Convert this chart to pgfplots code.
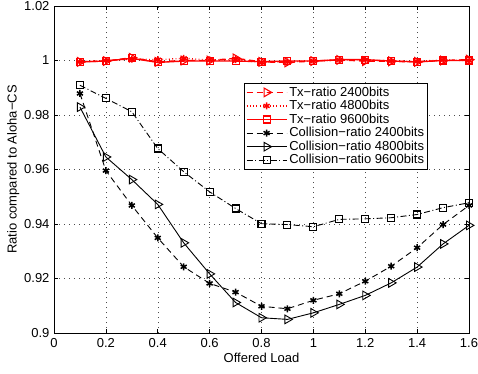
\documentclass[border=0pt]{standalone}
\usepackage{pgfplots}
\pgfplotsset{compat=1.18}
\usepackage{fontspec}
\setmainfont{Liberation Sans}
\begin{document}
\fontsize{13}{15}\selectfont
\begin{tikzpicture}
\begin{axis}[
  scale only axis, width=415pt, height=327pt,
  xmin=0, xmax=1.6, ymin=0.9, ymax=1.02,
  xtick={0,0.2,0.4,0.6,0.8,1,1.2,1.4,1.6},
  xticklabels={0,0.2,0.4,0.6,0.8,1,1.2,1.4,1.6},
  ytick={0.9,0.92,0.94,0.96,0.98,1,1.02},
  yticklabels={0.9,0.92,0.94,0.96,0.98,1,1.02},
  tick align=inside, tick pos=both,
  major tick length=4pt,
  xmajorgrids, ymajorgrids,
  grid style={black!70, dash pattern=on 0.8pt off 4.2pt, line width=0.5pt},
  axis line style={line width=0.9pt},
  tick style={black, line width=0.6pt},
  tick label style={font=\fontsize{13}{15}\selectfont},
  label style={font=\fontsize{13}{15}\selectfont},
  xticklabel style={yshift=-1pt},
  xlabel={Offered Load},
  ylabel={Ratio compared to Aloha−CS},
  xlabel style={yshift=4pt},
  ylabel style={yshift=-4pt},
  legend cell align=left,
  legend style={at={(0.901,0.765)}, anchor=north east, draw=black, line width=0.7pt,
    font=\fontsize{13}{15}\selectfont, inner sep=1.5pt, row sep=-1.8pt, fill=white},
  legend image code/.code={\draw[mark repeat=2,mark phase=2,#1] plot coordinates {(0pt,0pt) (20pt,0pt) (40pt,0pt)};},
]
% Tx-ratio 2400bits
\addplot[red, line width=1.4pt, dash pattern=on 6pt off 4pt, mark=triangle, mark size=5pt,
  mark options={solid, rotate=-90, line width=1.1pt}] coordinates {
(0.1,0.9995) (0.2,0.9998) (0.3,1.0010) (0.4,0.9995) (0.5,1.0000) (0.6,1.0000)
(0.7,1.0008) (0.8,0.9995) (0.9,0.9993) (1.0,0.9998) (1.1,1.0002) (1.2,0.9998)
(1.3,0.9997) (1.4,0.9995) (1.5,1.0000) (1.6,1.0003)};
\addlegendentry{Tx−ratio 2400bits}
% Tx-ratio 4800bits
\addplot[red, line width=1.4pt, dash pattern=on 0.8pt off 2.5pt, mark=asterisk, mark size=3.5pt,
  mark options={solid, line width=1.5pt}] coordinates {
(0.1,0.9995) (0.2,1.0000) (0.3,1.0005) (0.4,1.0003) (0.5,1.0008) (0.6,1.0002)
(0.7,1.0003) (0.8,0.9993) (0.9,0.9995) (1.0,0.9998) (1.1,1.0002) (1.2,1.0003)
(1.3,0.9998) (1.4,0.9997) (1.5,1.0002) (1.6,1.0000)};
\addlegendentry{Tx−ratio 4800bits}
% Tx-ratio 9600bits
\addplot[red, line width=1.4pt, mark=square, mark size=3.5pt,
  mark options={solid, line width=1.1pt}] coordinates {
(0.1,0.9995) (0.2,0.9998) (0.3,1.0008) (0.4,0.9993) (0.5,0.9998) (0.6,0.9998)
(0.7,0.9998) (0.8,0.9996) (0.9,0.9998) (1.0,0.9998) (1.1,1.0003) (1.2,1.0003)
(1.3,0.9998) (1.4,0.9995) (1.5,1.0000) (1.6,1.0000)};
\addlegendentry{Tx−ratio 9600bits}
% Collision-ratio 2400bits
\addplot[black, line width=0.9pt, dash pattern=on 6pt off 4pt, mark=asterisk, mark size=3.5pt,
  mark options={solid, line width=1.5pt}] coordinates {
(0.1,0.9879) (0.2,0.9596) (0.3,0.9468) (0.4,0.9349) (0.5,0.9243) (0.6,0.9182)
(0.7,0.9150) (0.8,0.9098) (0.9,0.9089) (1.0,0.9120) (1.1,0.9144) (1.2,0.9190)
(1.3,0.9245) (1.4,0.9313) (1.5,0.9398) (1.6,0.9468)};
\addlegendentry{Collision−ratio 2400bits}
% Collision-ratio 4800bits
\addplot[black, line width=0.9pt, mark=triangle, mark size=5pt,
  mark options={solid, rotate=-90, line width=0.9pt}] coordinates {
(0.1,0.9829) (0.2,0.9646) (0.3,0.9563) (0.4,0.9472) (0.5,0.9331) (0.6,0.9217)
(0.7,0.9112) (0.8,0.9056) (0.9,0.9050) (1.0,0.9074) (1.1,0.9105) (1.2,0.9138)
(1.3,0.9184) (1.4,0.9242) (1.5,0.9327) (1.6,0.9395)};
\addlegendentry{Collision−ratio 4800bits}
% Collision-ratio 9600bits
\addplot[black, line width=0.9pt, dash pattern=on 6pt off 2.5pt on 1pt off 2.5pt, mark=square, mark size=3.5pt,
  mark options={solid, line width=1.1pt}] coordinates {
(0.1,0.9909) (0.2,0.9861) (0.3,0.9812) (0.4,0.9677) (0.5,0.9592) (0.6,0.9518)
(0.7,0.9457) (0.8,0.9401) (0.9,0.9398) (1.0,0.9390) (1.1,0.9417) (1.2,0.9419)
(1.3,0.9423) (1.4,0.9435) (1.5,0.9460) (1.6,0.9478)};
\addlegendentry{Collision−ratio 9600bits}
\end{axis}
\pgfresetboundingbox
\path[use as bounding box] ([xshift=-54pt,yshift=-40pt]current axis.south west) rectangle ([xshift=9pt,yshift=6pt]current axis.north east);
\end{tikzpicture}
\end{document}
